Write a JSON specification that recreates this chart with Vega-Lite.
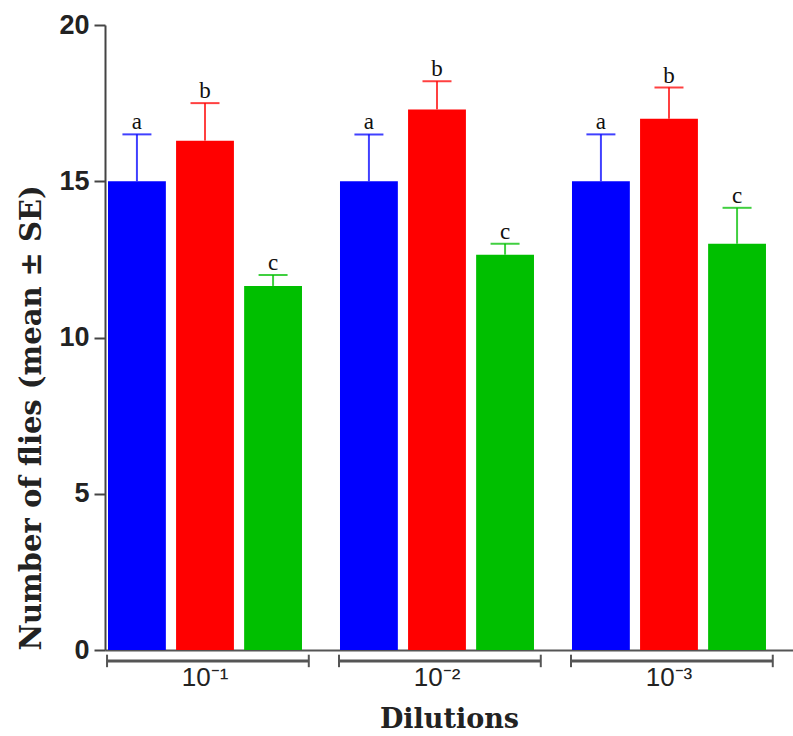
{
  "$schema": "https://vega.github.io/schema/vega-lite/v6.json",
  "width": 688,
  "height": 625,
  "autosize": {"type": "none"},
  "padding": {"left": 105, "top": 25, "right": 0, "bottom": 86},
  "background": "white",
  "config": {"view": {"stroke": null}},
  "datasets": {
    "bars": [
      {"dilution": "10⁻¹", "treatment": "T1", "mean": 15.0, "upper": 16.5, "letter": "a"},
      {"dilution": "10⁻¹", "treatment": "T2", "mean": 16.3, "upper": 17.5, "letter": "b"},
      {"dilution": "10⁻¹", "treatment": "T3", "mean": 11.65, "upper": 12.0, "letter": "c"},
      {"dilution": "10⁻²", "treatment": "T1", "mean": 15.0, "upper": 16.5, "letter": "a"},
      {"dilution": "10⁻²", "treatment": "T2", "mean": 17.3, "upper": 18.2, "letter": "b"},
      {"dilution": "10⁻²", "treatment": "T3", "mean": 12.65, "upper": 13.0, "letter": "c"},
      {"dilution": "10⁻³", "treatment": "T1", "mean": 15.0, "upper": 16.5, "letter": "a"},
      {"dilution": "10⁻³", "treatment": "T2", "mean": 17.0, "upper": 18.0, "letter": "b"},
      {"dilution": "10⁻³", "treatment": "T3", "mean": 13.0, "upper": 14.15, "letter": "c"}
    ],
    "groups": [
      {"dilution": "10⁻¹"},
      {"dilution": "10⁻²"},
      {"dilution": "10⁻³"}
    ]
  },
  "data": {"name": "bars"},
  "layer": [
    {
      "mark": {"type": "bar"},
      "encoding": {
        "x": {
          "field": "dilution", "type": "nominal", "sort": ["10⁻¹", "10⁻²", "10⁻³"],
          "scale": {"paddingInner": 0.1638, "paddingOuter": 0.0647, "align": 0.1, "round": false},
          "axis": {
            "title": "Dilutions", "domainColor": "#555", "domainWidth": 2, "ticks": false, "tickSize": 0,
            "labelAngle": 0, "labelFont": "Liberation Sans", "labelFontSize": 26, "labelColor": "#222",
            "labelPadding": 14, "titleFont": "DejaVu Serif", "titleFontSize": 27, "titleFontWeight": "bold",
            "titleColor": "#222", "titlePadding": 16
          }
        },
        "xOffset": {"field": "treatment", "type": "nominal", "scale": {"paddingInner": 0.15, "paddingOuter": 0}},
        "y": {
          "field": "mean", "type": "quantitative",
          "scale": {"domain": [0, 20], "nice": false},
          "axis": {
            "title": "Number of flies (mean ± SE)", "values": [0, 5, 10, 15, 20], "grid": false,
            "domainColor": "#444", "domainWidth": 2, "tickColor": "#444", "tickWidth": 2, "tickSize": 11,
            "labelFont": "Liberation Sans", "labelFontWeight": "bold", "labelFontSize": 27, "labelColor": "#222",
            "labelPadding": 5, "titleFont": "DejaVu Serif", "titleFontSize": 29, "titleFontWeight": "bold",
            "titleColor": "#222", "titleAnchor": "start", "titlePadding": 12
          }
        },
        "color": {"field": "treatment", "type": "nominal", "scale": {"range": ["#0000FF", "#FF0000", "#00BF00"]}, "legend": null}
      }
    },
    {
      "mark": {"type": "rule", "strokeWidth": 2, "opacity": 0.75},
      "encoding": {
        "x": {"field": "dilution", "type": "nominal", "sort": ["10⁻¹", "10⁻²", "10⁻³"]},
        "xOffset": {"field": "treatment", "type": "nominal"},
        "y": {"field": "mean", "type": "quantitative", "scale": {"domain": [0, 20], "nice": false}},
        "y2": {"field": "upper"},
        "color": {"field": "treatment", "type": "nominal", "legend": null}
      }
    },
    {
      "mark": {"type": "tick", "thickness": 2, "size": 29, "opacity": 0.75},
      "encoding": {
        "x": {"field": "dilution", "type": "nominal", "sort": ["10⁻¹", "10⁻²", "10⁻³"]},
        "xOffset": {"field": "treatment", "type": "nominal"},
        "y": {"field": "upper", "type": "quantitative", "scale": {"domain": [0, 20], "nice": false}},
        "color": {"field": "treatment", "type": "nominal", "legend": null}
      }
    },
    {
      "mark": {"type": "text", "font": "Liberation Serif", "fontSize": 23, "color": "#111", "baseline": "alphabetic", "dy": -5},
      "encoding": {
        "x": {"field": "dilution", "type": "nominal", "sort": ["10⁻¹", "10⁻²", "10⁻³"]},
        "xOffset": {"field": "treatment", "type": "nominal"},
        "y": {"field": "upper", "type": "quantitative", "scale": {"domain": [0, 20], "nice": false}},
        "text": {"field": "letter"}
      }
    },
    {
      "data": {"name": "groups"},
      "mark": {"type": "rule", "strokeWidth": 3, "color": "#555"},
      "encoding": {
        "x": {"field": "dilution", "type": "nominal", "sort": ["10⁻¹", "10⁻²", "10⁻³"], "bandPosition": -0.005},
        "x2": {"field": "dilution", "bandPosition": 1.035},
        "y": {"datum": -0.35, "type": "quantitative", "scale": {"domain": [0, 20], "nice": false}}
      }
    },
    {
      "data": {"name": "groups"},
      "mark": {"type": "rule", "strokeWidth": 2, "color": "#555"},
      "encoding": {
        "x": {"field": "dilution", "type": "nominal", "sort": ["10⁻¹", "10⁻²", "10⁻³"], "bandPosition": -0.005},
        "y": {"datum": -0.15, "type": "quantitative", "scale": {"domain": [0, 20], "nice": false}},
        "y2": {"datum": -0.55}
      }
    },
    {
      "data": {"name": "groups"},
      "mark": {"type": "rule", "strokeWidth": 2, "color": "#555"},
      "encoding": {
        "x": {"field": "dilution", "type": "nominal", "sort": ["10⁻¹", "10⁻²", "10⁻³"], "bandPosition": 1.035},
        "y": {"datum": -0.15, "type": "quantitative", "scale": {"domain": [0, 20], "nice": false}},
        "y2": {"datum": -0.55}
      }
    }
  ]
}
